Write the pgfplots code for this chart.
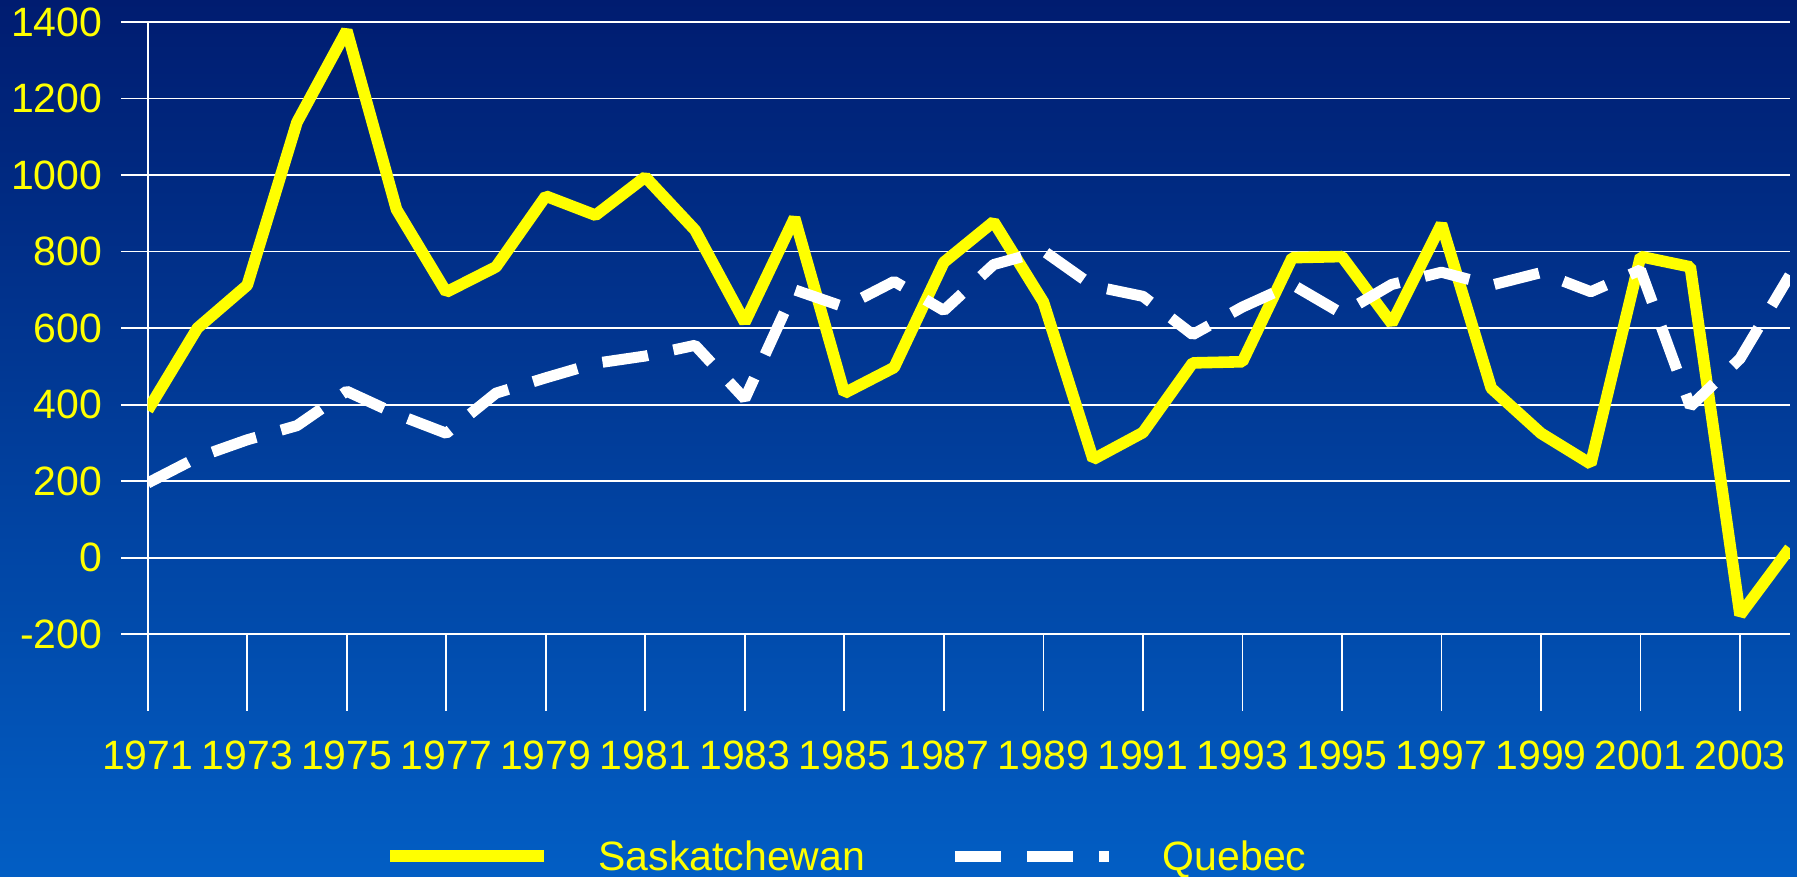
\documentclass[border=0pt]{standalone}
\usepackage{fontspec}
\setmainfont{Liberation Sans}
\usepackage{pgfplots}
\pgfplotsset{compat=1.18}
\definecolor{topblue}{RGB}{0,28,112}
\definecolor{botblue}{RGB}{2,94,196}
\definecolor{tyellow}{RGB}{255,255,0}
\newcommand{\lf}{\fontsize{20.5}{24}\selectfont}

\pgfplotstableread{
year val
1971 385
1972 600
1973 712
1974 1138
1975 1378
1976 910
1977 694
1978 760
1979 945
1980 895
1981 995
1982 856
1983 615
1984 888
1985 430
1986 497
1987 772
1988 878
1989 668
1990 257
1991 327
1992 509
1993 512
1994 784
1995 787
1996 612
1997 872
1998 443
1999 325
2000 245
2001 787
2002 760
2003 -150
2004 25
}\sask

\pgfplotstableread{
year val
1971 195
1972 262
1973 308
1974 345
1975 435
1976 375
1977 325
1978 430
1979 470
1980 508
1981 527
1982 555
1983 415
1984 700
1985 655
1986 722
1987 646
1988 766
1989 802
1990 710
1991 683
1992 583
1993 655
1994 714
1995 638
1996 714
1997 746
1998 712
1999 745
2000 695
2001 752
2002 395
2003 520
2004 738
}\queb

\begin{document}
\begin{tikzpicture}
\path[use as bounding box] (0,0) rectangle (898.5pt,438.5pt);
\shade[top color=topblue, bottom color=botblue] (0,0) rectangle (898.5pt,438.5pt);
\begin{axis}[
  at={(73.85pt,83.15pt)}, anchor=south west,
  scale only axis, width=821.05pt, height=344.35pt,
  xmin=1971, xmax=2004, ymin=-400, ymax=1400,
  axis y line*=left, axis x line*=bottom,
  x axis line style={draw=none},
  y axis line style={white, line width=0.9pt},
  xtick={1971,1973,1975,1977,1979,1981,1983,1985,1987,1989,1991,1993,1995,1997,1999,2001,2003},
  xticklabels={1971,1973,1975,1977,1979,1981,1983,1985,1987,1989,1991,1993,1995,1997,1999,2001,2003},
  ytick={-200,0,200,400,600,800,1000,1200,1400},
  yticklabels={-200,0,200,400,600,800,1000,1200,1400},
  tick align=outside, major tick length=13.5pt,
  tick style={white, line width=0.9pt},
  every x tick/.append style={draw=none},
  ymajorgrids, grid style={white, line width=0.9pt},
  ticklabel style={font=\lf, text=tyellow, inner sep=0pt},
  yticklabel style={anchor=east, xshift=-9.05pt},
  xticklabel style={anchor=north, yshift=-1.15pt},
  legend columns=2,
  legend style={draw=none, fill=none, at={(0.1442,-0.211)}, anchor=west,
    inner sep=0pt, outer sep=0pt,
    nodes={inner sep=0pt, text depth=0pt, font=\lf, text=tyellow},
    /tikz/every odd column/.append style={column sep=24.2pt},
    /tikz/every even column/.append style={column sep=42.1pt}},
  legend image code/.code={\draw[#1, line cap=butt] (0pt,0pt) -- (77pt,0pt);},
]
\pgfplotsinvokeforeach{1971,1973,...,2003}{
  \draw[white, line width=0.9pt] (axis cs:#1,-400) -- (axis cs:#1,-200);
}
\addplot[tyellow, line width=5.8pt, line join=bevel] table[x=year,y=val] {\sask};
\addlegendentry{Saskatchewan}
\addplot[white, line width=5.5pt, line join=bevel, dash pattern=on 23pt off 13pt] table[x=year,y=val] {\queb};
\addlegendentry{Quebec}
\end{axis}
\end{tikzpicture}
\end{document}
